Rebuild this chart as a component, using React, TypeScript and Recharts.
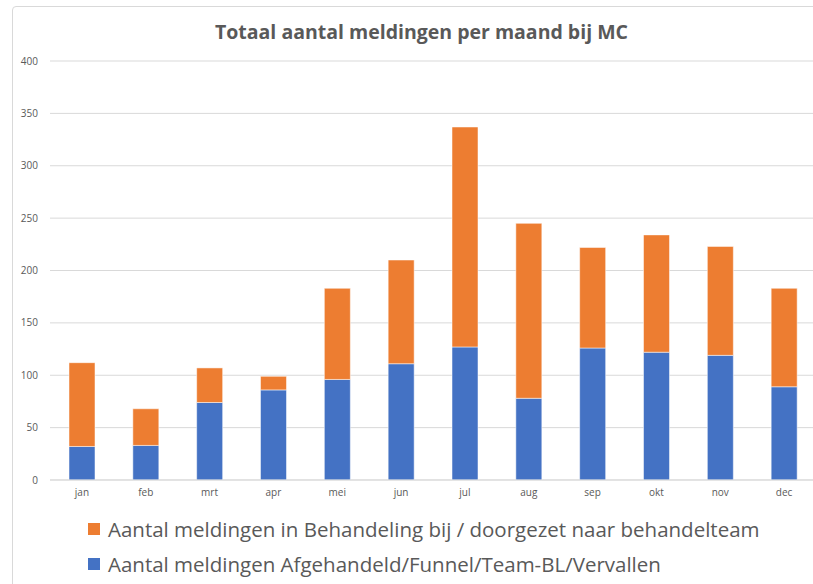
import React from "react";
import { BarChart, Bar, XAxis, YAxis, CartesianGrid } from "recharts";

// months on the x axis
const months = ["jan", "feb", "mrt", "apr", "mei", "jun", "jul", "aug", "sep", "okt", "nov", "dec"];

// afgehandeld / funnel / team-BL / vervallen (blue, bottom of stack)
const afgehandeld = [32, 33, 74, 86, 96, 111, 127, 78, 126, 122, 119, 89];

// in behandeling / doorgezet (orange, top of stack)
const inBehandeling = [80, 35, 33, 13, 87, 99, 210, 167, 96, 112, 104, 94];

const yTicks = [0, 50, 100, 150, 200, 250, 300, 350, 400];

const seriesNames = {
  afgehandeld: "Aantal meldingen Afgehandeld/Funnel/Team-BL/Vervallen",
  inBehandeling: "Aantal meldingen in Behandeling bij / doorgezet naar behandelteam",
};

const BLUE = "#4472C4";
const ORANGE = "#ED7D31";
const TEXT = "#595959";
const GRID = "#d9d9d9";
const FONT = "'Open Sans', 'Noto Sans', sans-serif";

const data = months.map((m, i) => ({
  name: m,
  afgehandeld: afgehandeld[i],
  inBehandeling: inBehandeling[i],
}));

const LegendRow = ({ color, label }: { color: string; label: string }) => (
  <div style={{ display: "flex", alignItems: "center", height: 35 }}>
    <span style={{ width: 12, height: 12, background: color, marginRight: 8, flexShrink: 0 }} />
    <span>{label}</span>
  </div>
);

export default function App() {
  return (
    <div
      style={{
        position: "absolute",
        left: 0,
        top: 0,
        width: 813,
        height: 584,
        overflow: "hidden",
        background: "#fff",
        fontFamily: FONT,
      }}
    >
      {/* chart frame */}
      <div
        style={{
          position: "absolute",
          left: 12,
          top: 6,
          width: 830,
          height: 620,
          border: `1px solid ${GRID}`,
          borderRadius: 4,
        }}
      />

      {/* Title */}
      <div
        style={{
          position: "absolute",
          top: 18,
          left: 0,
          width: 843,
          textAlign: "center",
          fontSize: 19.5,
          lineHeight: "28px",
          fontWeight: 700,
          color: TEXT,
        }}
      >
        Totaal aantal meldingen per maand bij MC
      </div>

      <div style={{ position: "absolute", left: 0, top: 0 }}>
        <BarChart
          width={816}
          height={510}
          data={data}
          margin={{ top: 61, right: 0, left: 0, bottom: 0 }}
          barSize={26}
        >
          <CartesianGrid vertical={false} stroke={GRID} />
          <XAxis
            dataKey="name"
            height={30}
            tickLine={false}
            tickSize={0}
            tickMargin={9}
            axisLine={{ stroke: GRID }}
            tick={{ fontSize: 10, fill: TEXT, fontFamily: FONT }}
          />
          <YAxis
            width={50}
            domain={[0, 400]}
            ticks={yTicks}
            axisLine={false}
            tickLine={false}
            tickSize={0}
            tickMargin={12}
            tick={{ fontSize: 10, fill: TEXT, fontFamily: FONT }}
          />
          <Bar
            dataKey="afgehandeld"
            name={seriesNames.afgehandeld}
            stackId="a"
            fill={BLUE}
            stroke="#ffffff"
            strokeOpacity={0.5}
            isAnimationActive={false}
          />
          <Bar
            dataKey="inBehandeling"
            name={seriesNames.inBehandeling}
            stackId="a"
            fill={ORANGE}
            stroke="#ffffff"
            strokeOpacity={0.5}
            isAnimationActive={false}
          />
        </BarChart>
      </div>

      {/* Legend */}
      <div
        style={{
          position: "absolute",
          left: 88,
          top: 511,
          fontSize: 20.5,
          color: TEXT,
          whiteSpace: "nowrap",
        }}
      >
        <LegendRow color={ORANGE} label={seriesNames.inBehandeling} />
        <LegendRow color={BLUE} label={seriesNames.afgehandeld} />
      </div>
    </div>
  );
}
